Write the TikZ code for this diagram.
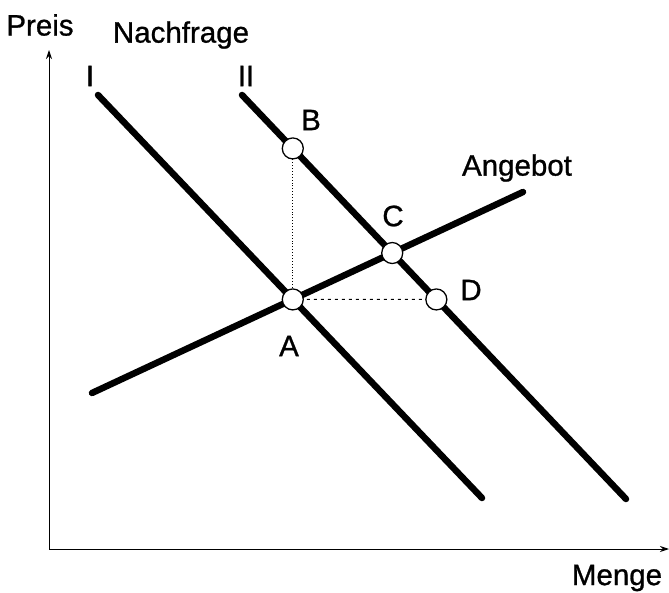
\documentclass[tikz,border=0pt]{standalone}
\usepackage{fontspec}
\setmainfont[FakeBold=0.9]{Liberation Sans}
\usetikzlibrary{arrows.meta,calc}
\begin{document}
\begin{tikzpicture}[x=1pt,y=-1pt,
  curve/.style={line width=6.5pt,line cap=round},
  axis/.style={line width=1pt,-{Stealth[length=9pt,width=6pt]}},
  pt/.style={circle,draw,fill=white,line width=1.3pt,minimum size=21pt,inner sep=0pt},
  lbl/.style={font=\fontsize{29.5}{32}\selectfont,inner sep=0pt},
  guide/.style={line width=0.9pt}]
\useasboundingbox (0,0) rectangle (669,593);
% axes
\coordinate (O) at (49,549);
\coordinate (Ytop) at (49,50);
\coordinate (Xend) at (669,549);
\draw[axis] (O) -- (Ytop);
\draw[axis] (O) -- (Xend);
% curve end points
\coordinate (I1) at (98,95);
\coordinate (I2) at (482,498);
\coordinate (II1) at (242,95);
\coordinate (II2) at (626,499);
\coordinate (S1) at (92,393);
\coordinate (S2) at (523,192);
\draw[curve] (I1) -- (I2);
\draw[curve] (II1) -- (II2);
\draw[curve] (S1) -- (S2);
% points
\coordinate (Ac) at (intersection of I1--I2 and S1--S2);
\coordinate (Cc) at (intersection of II1--II2 and S1--S2);
\coordinate (Bc) at (intersection of II1--II2 and Ac--{$(Ac)+(0,-10)$});
\coordinate (Dc) at (intersection of II1--II2 and Ac--{$(Ac)+(10,0)$});
\draw[guide,dotted] (Ac) -- (Bc);
\draw[guide,dash pattern=on 3pt off 4pt] (Ac) -- (Dc);
\node[pt] (A) at (Ac) {};
\node[pt] (B) at (Bc) {};
\node[pt] (C) at (Cc) {};
\node[pt] (D) at (Dc) {};
% labels
\node[lbl] (lA) at (289,346) {A};
\node[lbl] (lB) at (311,120) {B};
\node[lbl] (lC) at (393,216) {C};
\node[lbl] (lD) at (471,290) {D};
\node[lbl] (lAng) at (517,168) {Angebot};
\node[lbl] (lMenge) at (617,578) {Menge};
\node[lbl] (lPreis) at (40,25) {Preis};
\node[lbl] (lNach) at (181,35) {Nachfrage};
\node[lbl] (lI) at (90,76) {I};
\node[lbl] (lII) at (246,76) {II};
\end{tikzpicture}
\end{document}
